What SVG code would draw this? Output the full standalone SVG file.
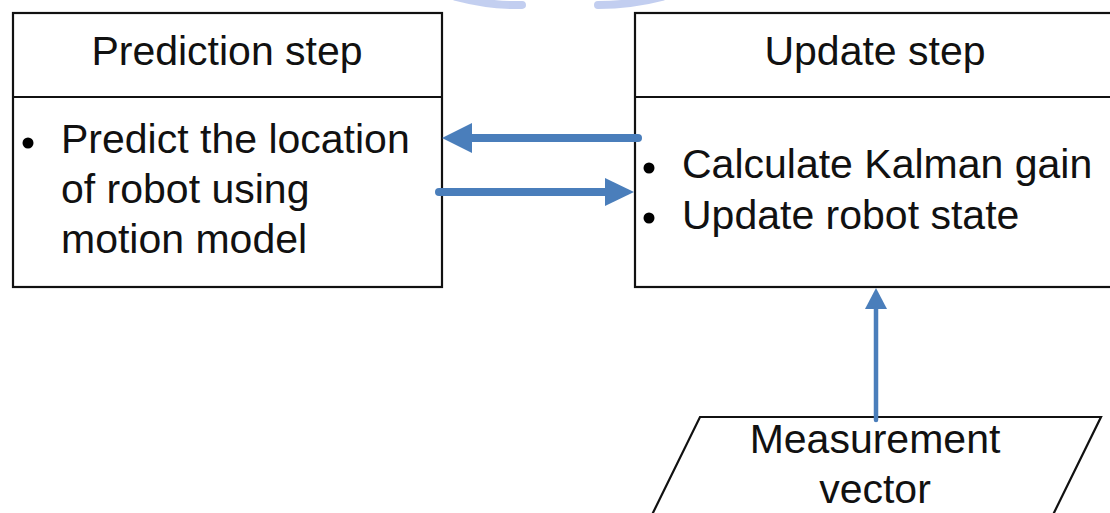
<svg xmlns="http://www.w3.org/2000/svg" width="1110" height="513" viewBox="0 0 1110 513">
  <style>
    .box { fill: #ffffff; stroke: #111111; stroke-width: 2.2; }
    .txt { font-family: "Liberation Sans", Arial, sans-serif; font-size: 41px; fill: #111111; }
    .mid { text-anchor: middle; }
    .dot { fill: #000000; }
    .flow { stroke: #4A7EBB; fill: none; stroke-linecap: round; }
    .head { fill: #4A7EBB; }
  </style>

  <rect width="1110" height="513" fill="#ffffff"/>

  <!-- faint emblem at the top edge -->
  <g id="emblem" fill="none" stroke="#A9BAEA" stroke-width="8" stroke-linecap="round" opacity="0.7">
    <path d="M456 -3 Q490 6 522 5"/>
    <path d="M598 5 Q632 5 662 -3"/>
  </g>

  <!-- prediction step -->
  <g id="prediction">
    <rect class="box" x="13" y="13" width="429" height="274"/>
    <line class="box" x1="13" y1="97" x2="442" y2="97"/>
    <text class="txt mid" x="227" y="65">Prediction step</text>
    <circle class="dot" cx="28" cy="143" r="5.5"/>
    <text class="txt" x="61" y="153">Predict the location</text>
    <text class="txt" x="61" y="203">of robot using</text>
    <text class="txt" x="61" y="253">motion model</text>
  </g>

  <!-- update step -->
  <g id="update">
    <rect class="box" x="635" y="13" width="490" height="274"/>
    <line class="box" x1="635" y1="97" x2="1125" y2="97"/>
    <text class="txt mid" x="875" y="65">Update step</text>
    <circle class="dot" cx="649" cy="168" r="5.5"/>
    <text class="txt" x="682" y="178">Calculate Kalman gain</text>
    <circle class="dot" cx="649" cy="218" r="5.5"/>
    <text class="txt" x="682" y="229">Update robot state</text>
  </g>

  <!-- measurement input -->
  <g id="measurement">
    <polygon class="box" points="700,417 1101,417 1047,527 646,527"/>
    <text class="txt mid" x="875" y="453">Measurement</text>
    <text class="txt mid" x="875" y="503">vector</text>
  </g>

  <!-- connectors -->
  <g id="connectors">
    <line class="flow" stroke-width="8" x1="638" y1="138" x2="468" y2="138"/>
    <polygon class="head" points="442,138 472,123 472,153"/>
    <line class="flow" stroke-width="8" x1="439" y1="192" x2="608" y2="192"/>
    <polygon class="head" points="634,192 605,178 605,206"/>
    <line class="flow" stroke-width="4.5" x1="876" y1="420" x2="876" y2="305"/>
    <polygon class="head" points="876,288 865,309 887,309"/>
  </g>
</svg>
